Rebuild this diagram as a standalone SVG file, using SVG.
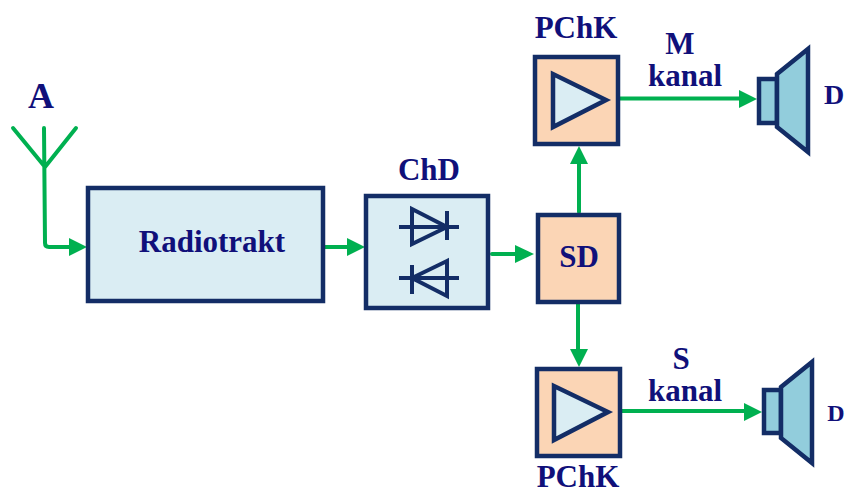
<svg xmlns="http://www.w3.org/2000/svg" width="845" height="494" viewBox="0 0 845 494">
<defs>
<style>
.b{stroke:#132d66;stroke-width:4.500;stroke-linejoin:miter}
.blue{fill:#daedf3}.or{fill:#fbd5b5}.sp{fill:#92cddc}
.w{stroke:#00b050;stroke-width:4;fill:none;stroke-linejoin:round;stroke-linecap:round}
.h{fill:#00b050}
.d{stroke:#132d66;stroke-width:4;fill:none}
text{font-family:"Liberation Serif","Times New Roman",serif;font-weight:bold;fill:#10107a;text-anchor:middle}
.t{font-size:31px}
</style>
</defs>
<rect width="845" height="494" fill="#fff"/>
<g id="connectors">
<path class="w" d="M13 128L45 167L76 128M44 128L45 243Q45 247 49 247H72"/>
<path class="h" d="M69 238L87 247L69 256Z"/>
<path class="w" d="M325 247H350"/><path class="h" d="M347 238L365 247L347 256Z"/>
<path class="w" d="M492 254H518"/><path class="h" d="M515 245L534 254L515 263Z"/>
<path class="w" d="M579 212V162"/><path class="h" d="M570 164L579 146L588 164Z"/>
<path class="w" d="M578 304V352"/><path class="h" d="M570 349L579 367L588 349Z"/>
<path class="w" d="M620 98.500H742"/><path class="h" d="M739 90L757 99L739 108Z"/>
<path class="w" d="M622 411H746"/><path class="h" d="M744 403L762 412L744 421Z"/>
</g>
<g id="antenna-label"><text x="41" y="108" style="font-size:36px">A</text></g>
<g id="radiotrakt"><rect class="b blue" x="88" y="188" width="235" height="113"/><text class="t" x="212" y="252">Radiotrakt</text></g>
<g id="chd"><rect class="b blue" x="366" y="196" width="122" height="112"/>
<path class="d" d="M399 227H459M412 209L447 227L412 244ZM447 211V240M399 278H459M447 261L412 278L447 296ZM412 265V294"/>
<text class="t" x="429" y="180">ChD</text></g>
<g id="sd"><rect class="or b" x="538" y="215" width="81" height="87"/><text class="t" x="579" y="267">SD</text></g>
<g id="pchk-m"><rect class="or b" x="535" y="57" width="83" height="87"/><path class="b blue" d="M553 74V127L606 100Z"/><text class="t" x="576" y="38">PChK</text></g>
<g id="pchk-s"><rect class="or b" x="537" y="369" width="83" height="87"/><path class="b blue" d="M554 386V440L608 412Z"/><text class="t" x="578" y="487">PChK</text></g>
<g id="speaker-m"><rect class="b sp" x="759" y="79" width="18" height="44"/><path class="b sp" d="M777 74L808 49V152L777 127Z"/><text x="834" y="104" style="font-size:28px">D</text></g>
<g id="speaker-s"><rect class="b sp" x="764" y="390" width="17" height="43"/><path class="b sp" d="M781 387L812 362V463L781 438Z"/><text x="836" y="421" style="font-size:24px">D</text></g>
<g id="label-m"><text class="t" x="680" y="54">M</text><text class="t" x="685" y="86">kanal</text></g>
<g id="label-s"><text class="t" x="681" y="369">S</text><text class="t" x="685" y="401">kanal</text></g>
</svg>
